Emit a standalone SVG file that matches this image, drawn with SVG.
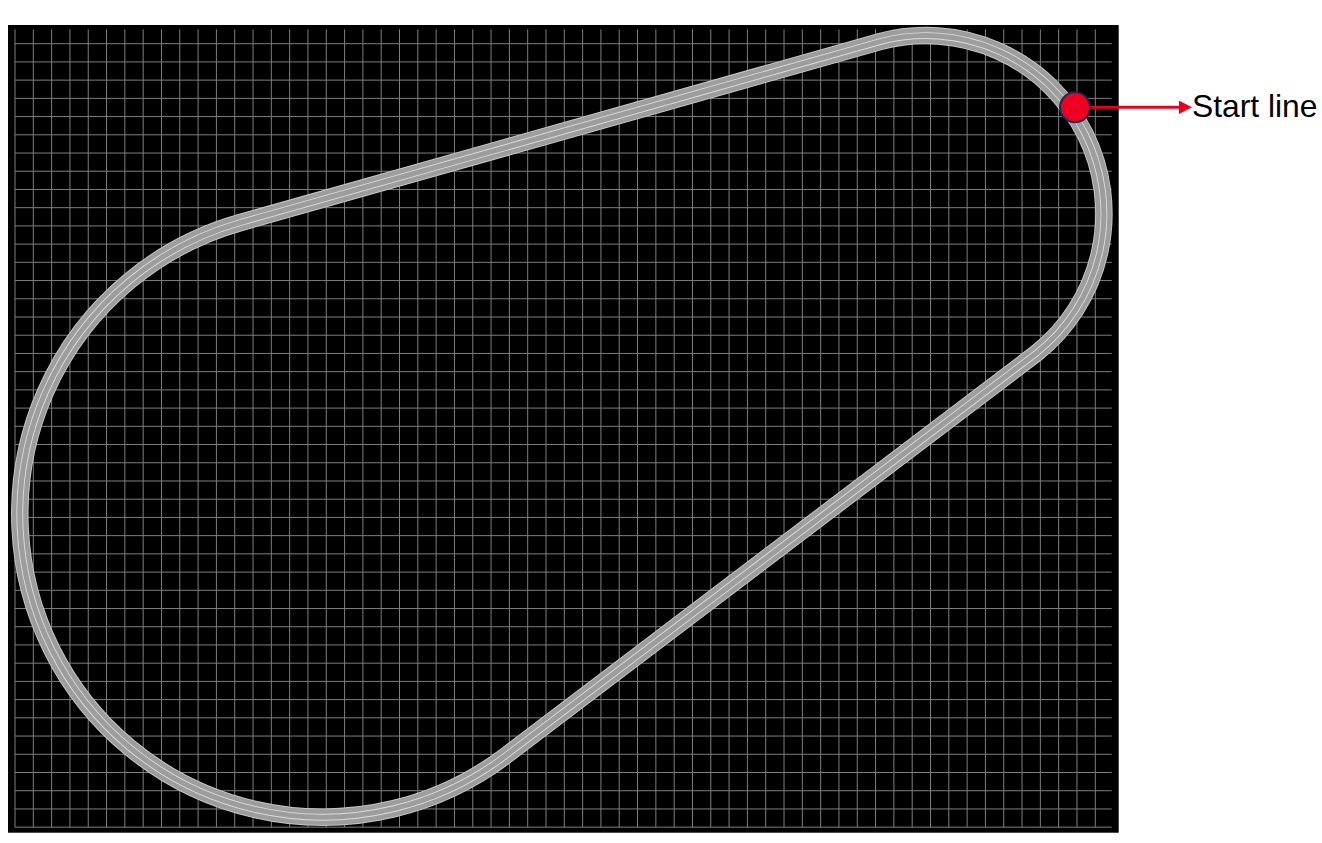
<svg xmlns="http://www.w3.org/2000/svg" width="1322" height="843" viewBox="0 0 1322 843">
<style>
.grid{fill:none;stroke:#7e7e7e;stroke-width:1}
.trk{fill:none;stroke-linejoin:round}
.edge{stroke:#c4c4c4;stroke-width:17.5}
.base{stroke:#9d9d9d;stroke-width:15.5}
.lane{stroke:#dcdcdc;stroke-width:6.8}
.mid{stroke:#9d9d9d;stroke-width:5}
.lbl{font-family:"Liberation Sans",Arial,sans-serif;font-size:31.8px;fill:#000}
</style>
<defs>
<path id="tc" d="M240.6,222.5 L879.8,41.7 A178,178 0 0 1 1036,353.5 L506.5,755.1 A303,303 0 1 1 240.6,222.5 Z"/>
<marker id="ah" viewBox="0 0 13 13.4" refX="1" refY="6.7" markerWidth="13" markerHeight="13.4" markerUnits="userSpaceOnUse" orient="auto"><path d="M0,0 L13,6.7 L0,13.4 Z" fill="#e8001f"/></marker>
</defs>
<rect width="1322" height="843" fill="#fff"/>
<g id="background">
<rect x="8" y="25" width="1110.7" height="807.7" fill="#000"/>
</g>
<g id="grid">
<path class="grid" d="M15 29.3V827.3M33.31 29.3V827.3M51.62 29.3V827.3M69.93 29.3V827.3M88.24 29.3V827.3M106.55 29.3V827.3M124.86 29.3V827.3M143.17 29.3V827.3M161.48 29.3V827.3M179.79 29.3V827.3M198.1 29.3V827.3M216.41 29.3V827.3M234.72 29.3V827.3M253.03 29.3V827.3M271.34 29.3V827.3M289.65 29.3V827.3M307.96 29.3V827.3M326.27 29.3V827.3M344.58 29.3V827.3M362.89 29.3V827.3M381.2 29.3V827.3M399.51 29.3V827.3M417.82 29.3V827.3M436.13 29.3V827.3M454.44 29.3V827.3M472.75 29.3V827.3M491.06 29.3V827.3M509.37 29.3V827.3M527.68 29.3V827.3M545.99 29.3V827.3M564.3 29.3V827.3M582.61 29.3V827.3M600.92 29.3V827.3M619.23 29.3V827.3M637.54 29.3V827.3M655.85 29.3V827.3M674.16 29.3V827.3M692.47 29.3V827.3M710.78 29.3V827.3M729.09 29.3V827.3M747.4 29.3V827.3M765.71 29.3V827.3M784.02 29.3V827.3M802.33 29.3V827.3M820.64 29.3V827.3M838.95 29.3V827.3M857.26 29.3V827.3M875.57 29.3V827.3M893.88 29.3V827.3M912.19 29.3V827.3M930.5 29.3V827.3M948.81 29.3V827.3M967.12 29.3V827.3M985.43 29.3V827.3M1003.74 29.3V827.3M1022.05 29.3V827.3M1040.36 29.3V827.3M1058.67 29.3V827.3M1076.98 29.3V827.3M1095.29 29.3V827.3"/>
<path class="grid" d="M15 43.7H1111.7M15 61.92H1111.7M15 80.14H1111.7M15 98.36H1111.7M15 116.58H1111.7M15 134.8H1111.7M15 153.02H1111.7M15 171.24H1111.7M15 189.46H1111.7M15 207.68H1111.7M15 225.9H1111.7M15 244.12H1111.7M15 262.34H1111.7M15 280.56H1111.7M15 298.78H1111.7M15 317H1111.7M15 335.22H1111.7M15 353.44H1111.7M15 371.66H1111.7M15 389.88H1111.7M15 408.1H1111.7M15 426.32H1111.7M15 444.54H1111.7M15 462.76H1111.7M15 480.98H1111.7M15 499.2H1111.7M15 517.42H1111.7M15 535.64H1111.7M15 553.86H1111.7M15 572.08H1111.7M15 590.3H1111.7M15 608.52H1111.7M15 626.74H1111.7M15 644.96H1111.7M15 663.18H1111.7M15 681.4H1111.7M15 699.62H1111.7M15 717.84H1111.7M15 736.06H1111.7M15 754.28H1111.7M15 772.5H1111.7M15 790.72H1111.7M15 808.94H1111.7M15 827.16H1111.7"/>
</g>
<g id="track">
<use href="#tc" class="trk edge"/>
<use href="#tc" class="trk base"/>
<use href="#tc" class="trk lane"/>
<use href="#tc" class="trk mid"/>
</g>
<g id="connectors">
<line x1="1090" y1="107.3" x2="1180" y2="107.3" stroke="#e8001f" stroke-width="3" marker-end="url(#ah)"/>
</g>
<g id="start-marker">
<circle cx="1075" cy="107.3" r="15" fill="#ee0022" stroke="#1f2a4a" stroke-width="2"/>
</g>
<g id="start-label">
<text class="lbl" x="1192" y="116.5">Start line</text>
</g>
</svg>
